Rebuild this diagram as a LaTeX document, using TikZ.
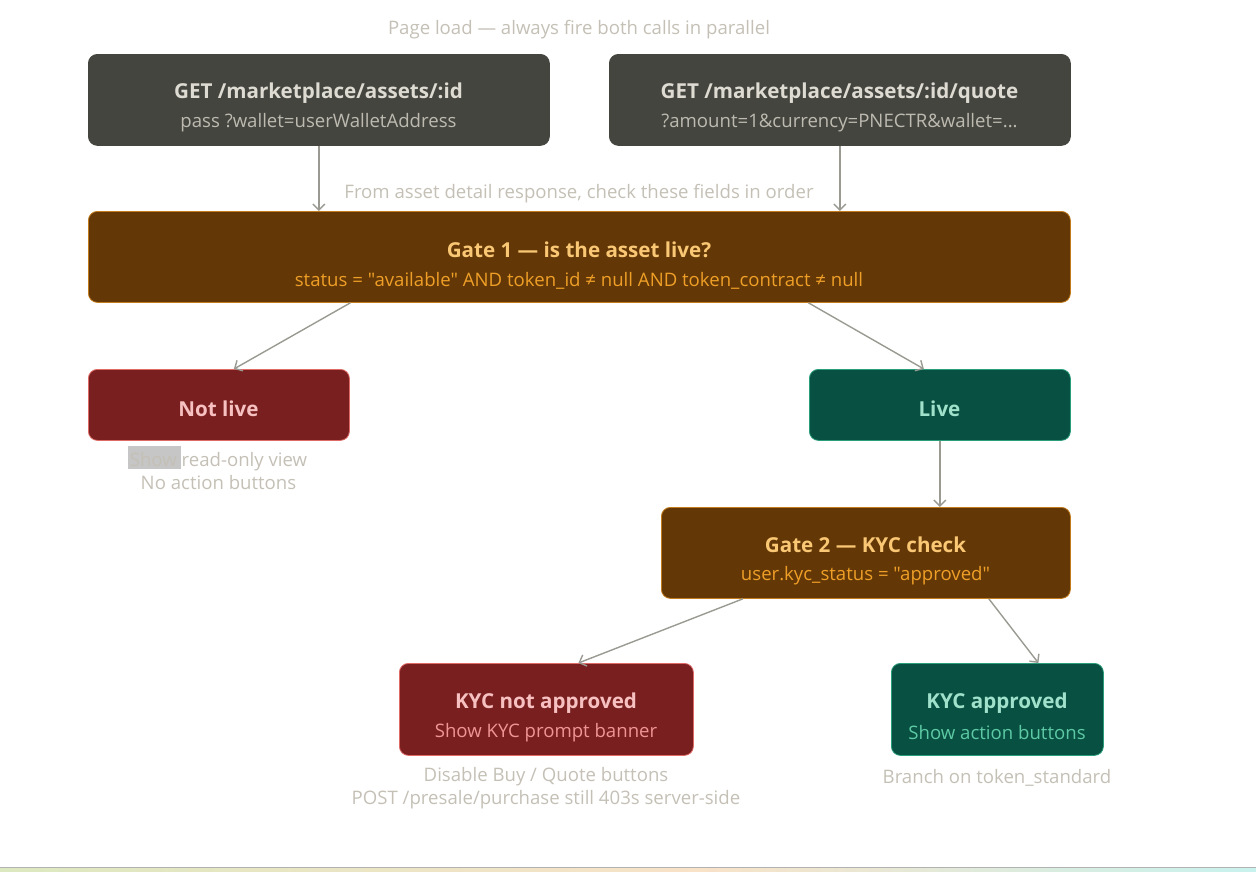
\documentclass[tikz,border=0pt]{standalone}
\usepackage{fontspec}
\setmainfont{Open Sans}[Ligatures=TeXOff]
\usetikzlibrary{arrows.meta,calc}
\definecolor{capc}{HTML}{C4C0B6}
\definecolor{greyfill}{HTML}{454540}
\definecolor{greyt}{HTML}{DEDBD2}
\definecolor{greys}{HTML}{BDBAB0}
\definecolor{ambfill}{HTML}{633806}
\definecolor{ambdraw}{HTML}{C27C1C}
\definecolor{ambt}{HTML}{FAC775}
\definecolor{ambs}{HTML}{EF9F27}
\definecolor{redfill}{HTML}{791F1F}
\definecolor{reddraw}{HTML}{E06A66}
\definecolor{redt}{HTML}{F7C1C1}
\definecolor{reds}{HTML}{F09595}
\definecolor{grnfill}{HTML}{085041}
\definecolor{grndraw}{HTML}{2A9E7A}
\definecolor{grnt}{HTML}{9FE1CB}
\definecolor{grns}{HTML}{5DCAA5}
\definecolor{arrc}{HTML}{9A9A92}
\definecolor{stripa}{HTML}{DCE8C0}
\definecolor{stripb}{HTML}{F8E2C8}
\definecolor{stripc}{HTML}{C8F2EE}
\tikzset{
  box/.style={rounded corners=9pt, line width=0.8pt, inner sep=0pt, anchor=north west},
  greybox/.style={box, fill=greyfill, draw=greyfill},
  ambbox/.style={box, fill=ambfill, draw=ambdraw},
  redbox/.style={box, fill=redfill, draw=reddraw},
  grnbox/.style={box, fill=grnfill, draw=grndraw},
  ttl/.style={font=\fontsize{20.6}{24}\selectfont\bfseries, inner sep=0pt},
  sub/.style={font=\fontsize{18.6}{22}\selectfont, inner sep=0pt},
  captxt/.style={font=\fontsize{18.6}{23}\selectfont, text=capc, inner sep=0pt, align=center},
  conn/.style={draw=arrc, line width=1.4pt, -{Straight Barb[length=6pt,width=12pt,line width=1.4pt]}}
}
\begin{document}
\begin{tikzpicture}[x=1pt,y=-1pt]
\useasboundingbox (0,0) rectangle (1256,871);
% bottom strip
\shade[left color=stripa, right color=stripb] (0,868) rectangle (700,871);
\shade[left color=stripb, right color=stripc] (700,868) rectangle (1256,871);
\draw[gray!60, line width=0.6pt] (0,867.5) -- (1256,867.5);

\node[captxt] (c1) at (579,29.5) {Page load — always fire both calls in parallel};

\node[greybox, minimum width=461pt, minimum height=91pt] (A) at (88,54) {};
\node[ttl, text=greyt] (At) at (318.5,93) {GET /marketplace/assets/:id};
\node[sub, text=greys] (As) at (318.5,123) {pass ?wallet=userWalletAddress};

\node[greybox, minimum width=461pt, minimum height=91pt] (B) at (609,54) {};
\node[ttl, text=greyt] (Bt) at (839.5,93) {GET /marketplace/assets/:id/quote};
\node[sub, text=greys] (Bs) at (839.5,123) {?amount=1\&currency=PNECTR\&wallet=...};

\node[captxt] (c2) at (579,193.5) {From asset detail response, check these fields in order};

\node[ambbox, minimum width=982pt, minimum height=91pt] (G1) at (88,211) {};
\node[ttl, text=ambt] (G1t) at (579,250) {Gate 1 — is the asset live?};
\node[sub, text=ambs] (G1s) at (579,281) {status = "available" AND token\_id ≠ null AND token\_contract ≠ null};

\node[redbox, minimum width=261pt, minimum height=71pt] (NL) at (88,369) {};
\node[ttl, text=redt] (NLt) at (218.5,409) {Not live};
\fill[gray!45] (128,446) rectangle (181,469);
\node[captxt] (NLc) at (218.5,471.5) {Show read-only view\\No action buttons};

\node[grnbox, minimum width=261pt, minimum height=71pt] (L) at (809,369) {};
\node[ttl, text=grnt] (Lt) at (939.5,409) {Live};

\node[ambbox, minimum width=409pt, minimum height=91pt] (G2) at (661,507) {};
\node[ttl, text=ambt] (G2t) at (865.5,545) {Gate 2 — KYC check};
\node[sub, text=ambs] (G2s) at (865.5,576) {user.kyc\_status = "approved"};

\node[redbox, minimum width=294pt, minimum height=92pt] (KN) at (399,663) {};
\node[ttl, text=redt] (KNt) at (546,703) {KYC not approved};
\node[sub, text=reds] (KNs) at (546,733) {Show KYC prompt banner};
\node[captxt] (KNc) at (546,788.5) {Disable Buy / Quote buttons\\POST /presale/purchase still 403s server-side};

\node[grnbox, minimum width=212pt, minimum height=92pt] (KA) at (891,663) {};
\node[ttl, text=grnt] (KAt) at (997,703) {KYC approved};
\node[sub, text=grns] (KAs) at (997,733) {Show action buttons};
\node[captxt] (KAc) at (997,777.5) {Branch on token\_standard};

% connectors
\draw[conn] (A.south) -- (A.south |- G1.north);
\draw[conn] (B.south) -- (B.south |- G1.north);
\draw[conn] ($(G1.south west)!0.267!(G1.south east)$) -- ([xshift=15pt]NL.north);
\draw[conn] ($(G1.south west)!0.733!(G1.south east)$) -- ([xshift=-16pt]L.north);
\draw[conn] (L.south) -- (L.south |- G2.north);
\draw[conn] ($(G2.south west)!0.2!(G2.south east)$) -- ([xshift=32pt]KN.north);
\draw[conn] ($(G2.south west)!0.8!(G2.south east)$) -- ([xshift=41pt]KA.north);
\end{tikzpicture}
\end{document}
